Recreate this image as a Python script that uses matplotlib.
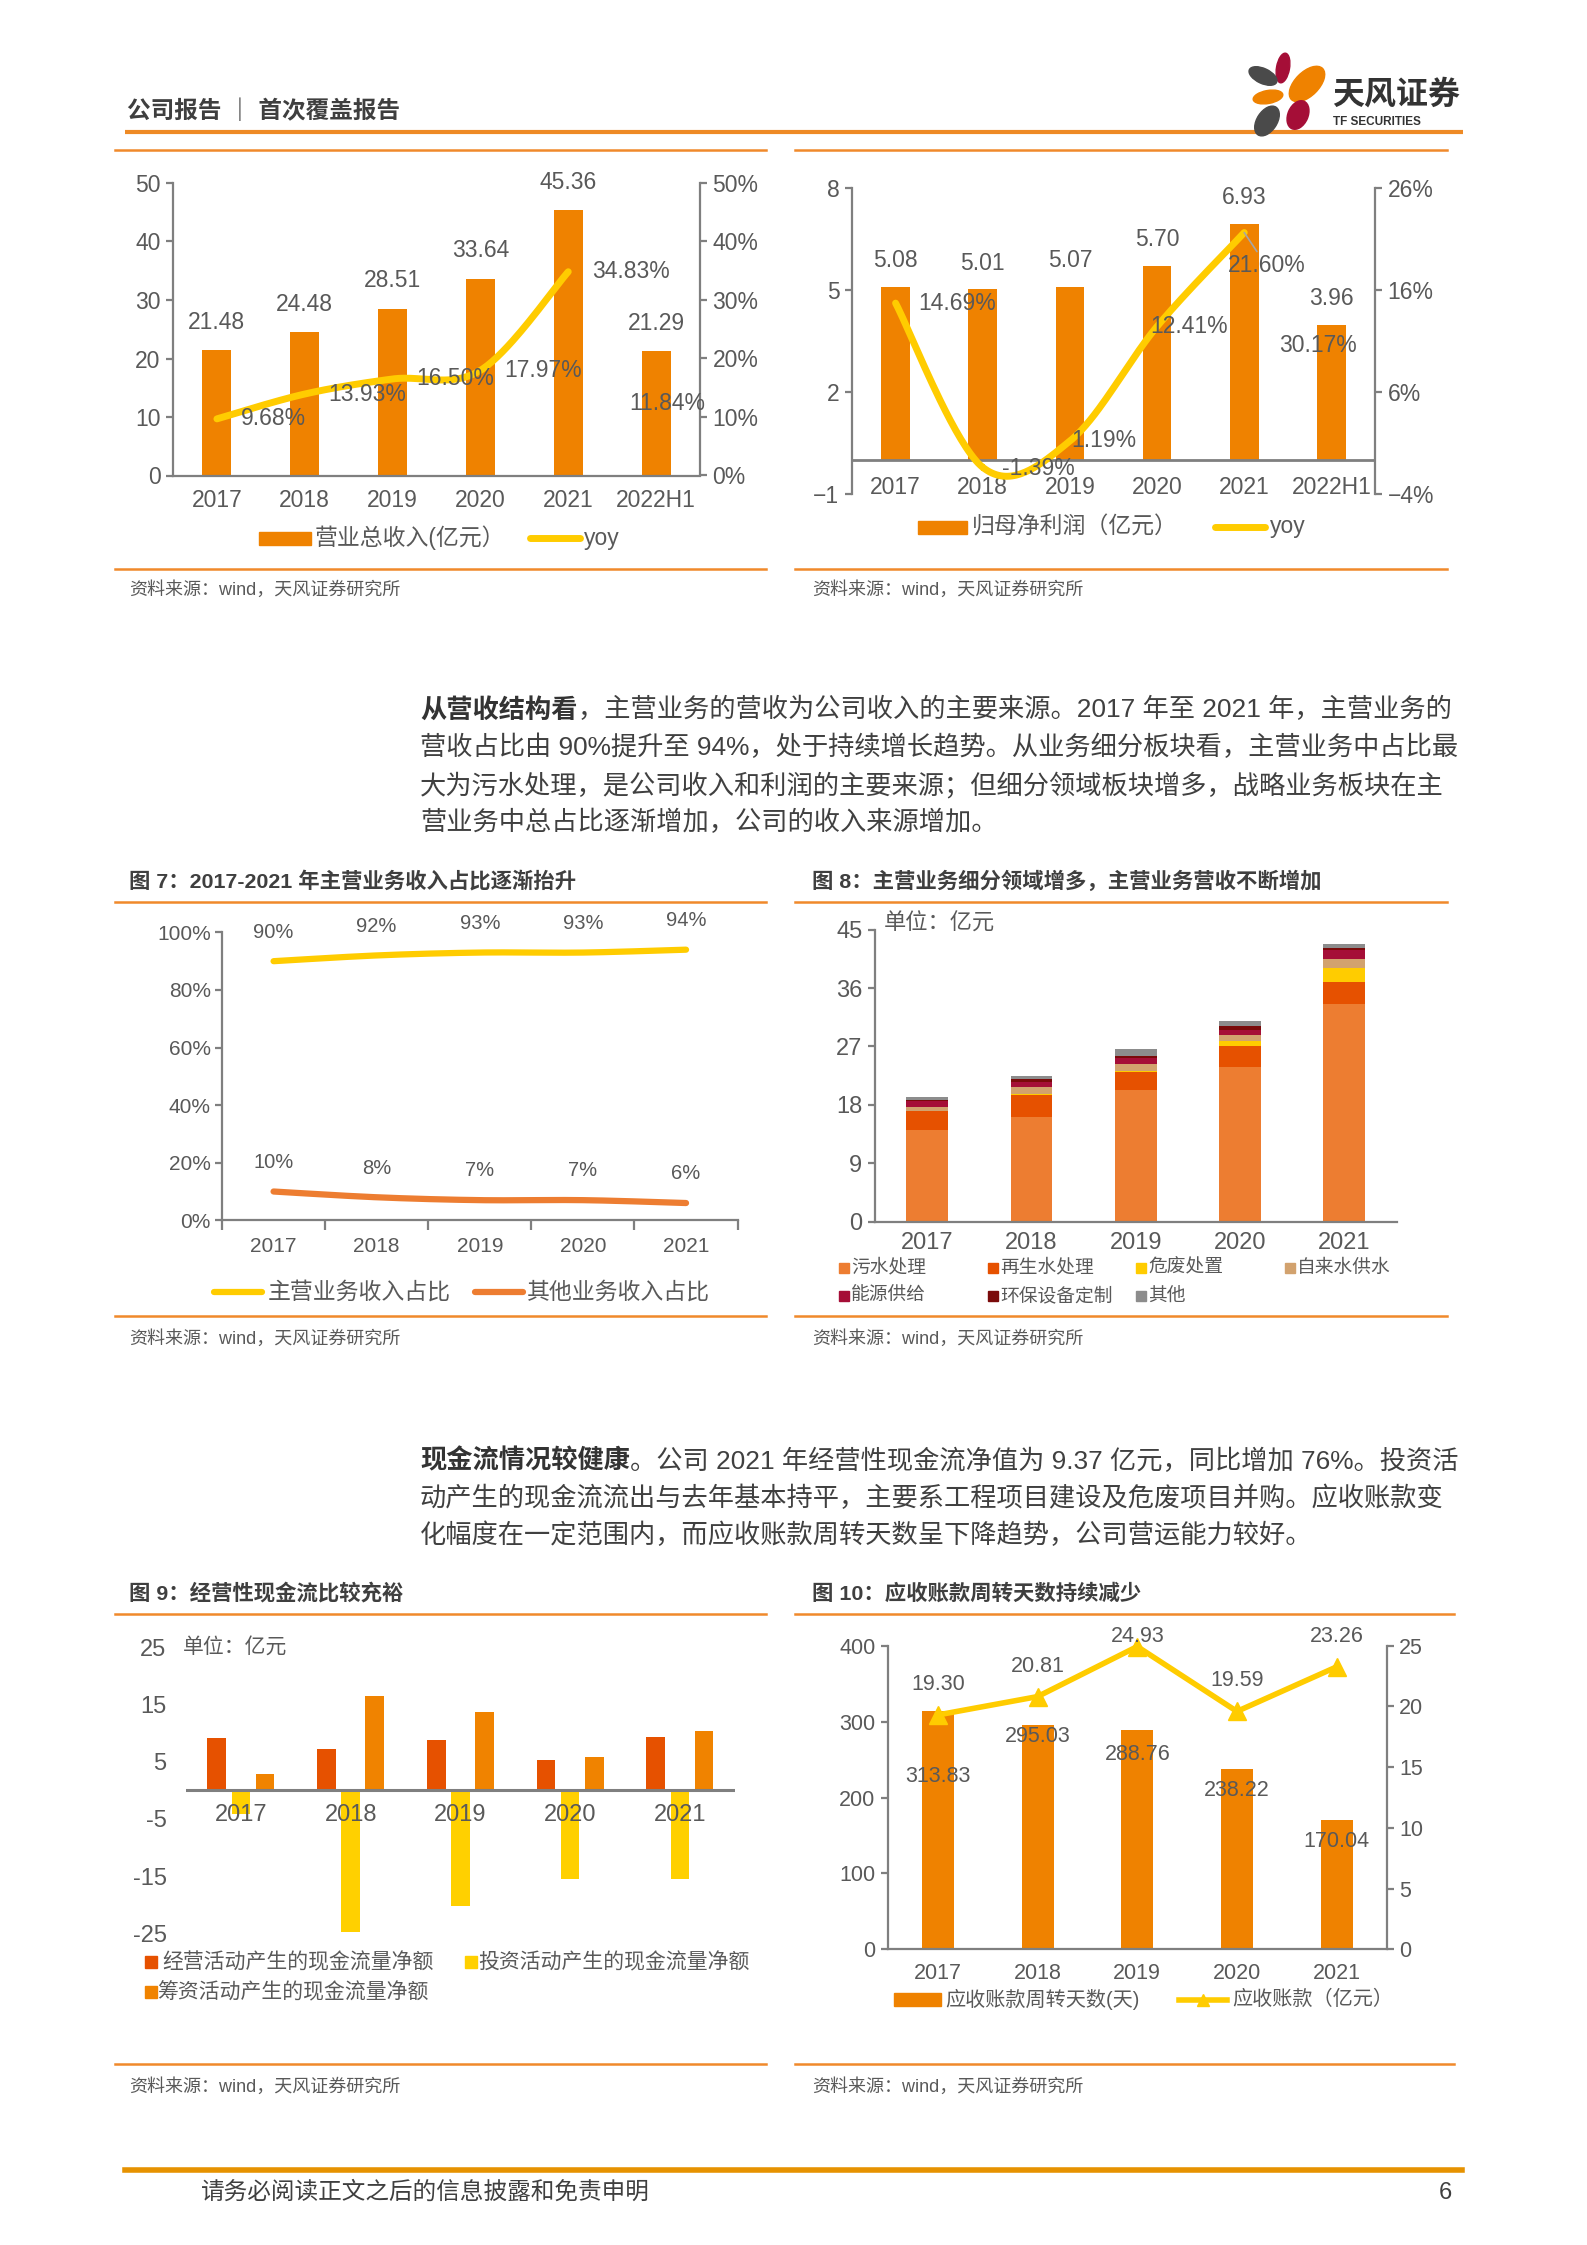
import numpy as np
import matplotlib
matplotlib.use('Agg')
import matplotlib.pyplot as plt
from matplotlib.patches import Ellipse, Rectangle

plt.rcParams['font.family'] = ['Liberation Sans', 'Noto Sans CJK SC', 'DejaVu Sans']

# ---- 数据 ----
years6 = ['2017', '2018', '2019', '2020', '2021', '2022H1']
revenue = [21.48, 24.48, 28.51, 33.64, 45.36, 21.29]
revenue_yoy = [9.68, 13.93, 16.50, 17.97, 34.83, 11.84]
profit = [5.08, 5.01, 5.07, 5.70, 6.93, 3.96]
profit_yoy = [14.69, -1.39, 1.19, 12.41, 21.60, 30.17]

years5 = ['2017', '2018', '2019', '2020', '2021']
main_share = [90, 92, 93, 93, 94]
other_share = [10, 8, 7, 7, 6]

seg_names = ['污水处理', '再生水处理', '危废处置', '自来水供水', '能源供给', '环保设备定制', '其他']
sewage = [14.2, 16.1, 20.3, 23.8, 33.6]
reclaimed = [2.9, 3.5, 2.8, 3.2, 3.3]
hazardous = [0.0, 0.1, 0.2, 0.8, 2.2]
tap_water = [0.6, 1.0, 1.0, 0.9, 1.35]
energy = [0.9, 0.8, 0.9, 0.9, 1.35]
equipment = [0.15, 0.45, 0.4, 0.5, 0.3]
others = [0.5, 0.5, 1.0, 0.9, 0.7]

cf_names = ['经营活动产生的现金流量净额', '投资活动产生的现金流量净额', '筹资活动产生的现金流量净额']
op_cf = [9.1, 7.2, 8.8, 5.3, 9.37]
inv_cf = [-4.1, -24.7, -20.1, -15.5, -15.5]
fin_cf = [2.9, 16.4, 13.6, 5.8, 10.4]

recv_days = [313.83, 295.03, 288.76, 238.22, 170.04]
receivables = [19.30, 20.81, 24.93, 19.59, 23.26]

# ---- 样式 ----
W, H = 1587, 2245
ORANGE = '#EF8200'
YELLOW = '#FFCC00'
LINE_OR = '#F0892B'
TXT = '#595959'
SPINE = '#7F7F7F'
DARK = '#3F3F3F'


def smooth(xs, ys, n=40):
    # Catmull-Rom 平滑曲线，模拟 Excel 的平滑线
    pts = np.column_stack([xs, ys]).astype(float)
    P = np.vstack([pts[0], pts, pts[-1]])
    t = np.linspace(0, 1, n)[:, None]
    segs = []
    for i in range(1, len(P) - 2):
        p0, p1, p2, p3 = P[i - 1], P[i], P[i + 1], P[i + 2]
        segs.append(0.5 * (2 * p1 + (-p0 + p2) * t + (2 * p0 - 5 * p1 + 4 * p2 - p3) * t ** 2
                           + (-p0 + 3 * p1 - 3 * p2 + p3) * t ** 3))
    s = np.vstack(segs)
    return s[:, 0], s[:, 1]


fig = plt.figure(figsize=(W / 100, H / 100), dpi=100)
bg = fig.add_axes([0, 0, 1, 1], zorder=0)
bg.set_xlim(0, W)
bg.set_ylim(H, 0)
bg.axis('off')


def axes_px(l, t, r, b):
    ax = fig.add_axes([l / W, 1 - b / H, (r - l) / W, (b - t) / H], zorder=1)
    ax.set_facecolor('none')
    return ax


def base_style(ax, left=True, bottom=True, right=False):
    for k, s in ax.spines.items():
        s.set_color(SPINE)
        s.set_linewidth(1.6)
    ax.spines['top'].set_visible(False)
    ax.spines['right'].set_visible(right)
    ax.spines['left'].set_visible(left)
    ax.spines['bottom'].set_visible(bottom)


# ---- 页眉 ----
bg.text(127, 111, '公司报告 ｜ 首次覆盖报告', fontsize=17, fontweight='bold', color=DARK, va='center')
bg.plot([125, 1463], [132, 132], color='#EE8A25', lw=3, solid_capstyle='butt')
# 标志花瓣: 中心, 长轴, 短轴, 角度(数据坐标, y 轴向下), 颜色
petals = [((1283, 68), 30, 13, -80, '#A50E37'),
          ((1263, 76), 30, 15, 25, '#4A4A4A'),
          ((1307, 84), 44, 24, -45, ORANGE),
          ((1268, 97), 30, 13, -10, ORANGE),
          ((1298, 115), 30, 20, -66, '#A50E37'),
          ((1267, 121), 33, 20, -57, '#4A4A4A')]
for c, w, h, a, col in petals:
    bg.add_patch(Ellipse(c, w, h, angle=a, color=col, zorder=3))
bg.text(1332, 95, '天风证券', fontsize=23, fontweight='bold', color='#333333', va='center')
bg.text(1333, 122, 'TF SECURITIES', fontsize=8.5, fontweight='bold', color='#333333', va='center')


# ---- 图框线与来源 ----
def frame(x0, x1, ytop, ybot, src_x, src_y, title=None, title_y=None):
    bg.plot([x0, x1], [ytop, ytop], color=LINE_OR, lw=1.8)
    bg.plot([x0, x1], [ybot, ybot], color=LINE_OR, lw=1.8)
    bg.text(src_x, src_y, '资料来源：wind，天风证券研究所', fontsize=13, color=TXT, va='center')
    if title:
        bg.text(src_x, title_y, title, fontsize=15.4, fontweight='bold', color=DARK, va='center')


frame(115, 766, 150, 569, 129, 590)
frame(795, 1447, 150, 569, 812, 590)
frame(115, 766, 902, 1316, 129, 1339, '图 7：2017-2021 年主营业务收入占比逐渐抬升', 881)
frame(795, 1447, 902, 1316, 812, 1339, '图 8：主营业务细分领域增多，主营业务营收不断增加', 881)
frame(115, 766, 1614, 2064, 129, 2087, '图 9：经营性现金流比较充裕', 1593)
frame(795, 1454, 1614, 2064, 812, 2087, '图 10：应收账款周转天数持续减少', 1593)

# ---- 正文段落 ----
PFS = 18.9
PCOL = '#404040'


def paragraph(bold, lines, x, y0, dy):
    t = bg.text(x, y0, bold, fontsize=PFS, fontweight='bold', color='#333333', va='center')
    bg.annotate(lines[0], xy=(1, 0), xycoords=t, va='bottom', ha='left', fontsize=PFS, color=PCOL)
    for i, ln in enumerate(lines[1:], start=1):
        bg.text(x, y0 + i * dy, ln, fontsize=PFS, color=PCOL, va='center')


paragraph('从营收结构看',
          ['，主营业务的营收为公司收入的主要来源。2017 年至 2021 年，主营业务的',
           '营收占比由 90%提升至 94%，处于持续增长趋势。从业务细分板块看，主营业务中占比最',
           '大为污水处理，是公司收入和利润的主要来源；但细分领域板块增多，战略业务板块在主',
           '营业务中总占比逐渐增加，公司的收入来源增加。'],
          420, 710, 37.3)
paragraph('现金流情况较健康',
          ['。公司 2021 年经营性现金流净值为 9.37 亿元，同比增加 76%。投资活',
           '动产生的现金流流出与去年基本持平，主要系工程项目建设及危废项目并购。应收账款变',
           '化幅度在一定范围内，而应收账款周转天数呈下降趋势，公司营运能力较好。'],
          420, 1461, 37.3)

# ---- 页脚 ----
bg.plot([125, 1462], [2170, 2170], color='#E69200', lw=4)
bg.text(201, 2193, '请务必阅读正文之后的信息披露和免责申明', fontsize=17, color=DARK, va='center')
bg.text(1452, 2193, '6', fontsize=17, color=DARK, va='center', ha='right')

# ================= 图：营业总收入 =================
x6 = np.arange(len(years6))
ax1 = axes_px(173, 183, 700, 475.5)
base_style(ax1)
ax1.bar(x6, revenue, width=0.33, color=ORANGE, zorder=2)
ax1.set_xlim(-0.5, 5.5)
ax1.set_ylim(0, 50)
ax1.set_yticks(np.arange(0, 51, 10))
ax1.set_xticks(x6)
ax1.set_xticklabels(years6)
ax1.tick_params(axis='x', length=0, pad=10, labelsize=16.5, labelcolor=TXT)
ax1.tick_params(axis='y', length=5, width=1.6, color=SPINE, labelsize=16.5, labelcolor=TXT, pad=4)
for xi, v in zip(x6, revenue):
    ax1.annotate(f'{v:.2f}', (xi, v), xytext=(0, 20), textcoords='offset points',
                 ha='center', va='center', fontsize=16.5, color=TXT)
ax1r = ax1.twinx()
base_style(ax1r, left=False, bottom=False, right=True)
ax1r.set_ylim(0, 50)
ax1r.set_yticks(np.arange(0, 51, 10))
ax1r.set_yticklabels([f'{v}%' for v in range(0, 51, 10)])
ax1r.tick_params(axis='y', length=5, width=1.6, color=SPINE, labelsize=16.5, labelcolor=TXT, pad=4)
sx, sy = smooth(x6[:5], revenue_yoy[:5])
ax1r.plot(sx, sy, color=YELLOW, lw=5, solid_capstyle='round', zorder=3)
for xi, v in zip(x6[:5], revenue_yoy[:5]):
    ax1r.annotate(f'{v:.2f}%', (xi, v), xytext=(17, 0), textcoords='offset points',
                  ha='left', va='center', fontsize=16.5, color=TXT)
ax1r.annotate(f'{revenue_yoy[5]:.2f}%', (x6[5], revenue_yoy[5]), xytext=(8, 2), textcoords='offset points',
              ha='center', va='center', fontsize=16.5, color=TXT)
# 图例
bg.add_patch(Rectangle((259, 532), 52, 13, color=ORANGE))
bg.text(315, 538, '营业总收入(亿元）', fontsize=16.5, color=TXT, va='center')
bg.plot([530, 580], [538, 538], color=YELLOW, lw=5, solid_capstyle='round')
bg.text(584, 538, 'yoy', fontsize=16.5, color=TXT, va='center')

# ================= 图：归母净利润 =================
ax2 = axes_px(852, 187.6, 1375, 494)
base_style(ax2, bottom=False)
ax2.bar(x6, profit, width=0.33, color=ORANGE, zorder=2)
ax2.axhline(0, color=SPINE, lw=2, zorder=3)
ax2.set_xlim(-0.5, 5.5)
ax2.set_ylim(-1, 8)
ax2.set_yticks([-1, 2, 5, 8])
ax2.set_yticklabels(['\u22121', '2', '5', '8'])
ax2.set_xticks([])
ax2.tick_params(axis='y', length=5, width=1.6, color=SPINE, labelsize=16.5, labelcolor=TXT, pad=4)
for xi, lbl in zip(x6, years6):
    ax2.text(xi, -0.8, lbl, ha='center', va='center', fontsize=16.5, color=TXT, zorder=4)
for xi, v in zip(x6, profit):
    ax2.annotate(f'{v:.2f}', (xi, v), xytext=(0, 19), textcoords='offset points',
                 ha='center', va='center', fontsize=16.5, color=TXT)
ax2r = ax2.twinx()
base_style(ax2r, left=False, bottom=False, right=True)
ax2r.set_ylim(-4, 26)
ax2r.set_yticks([-4, 6, 16, 26])
ax2r.set_yticklabels(['\u22124%', '6%', '16%', '26%'])
ax2r.tick_params(axis='y', length=5, width=1.6, color=SPINE, labelsize=16.5, labelcolor=TXT, pad=4)
sx, sy = smooth(x6[:5], profit_yoy[:5])
ax2r.plot(sx, sy, color=YELLOW, lw=5, solid_capstyle='round', zorder=3)
yoy_off = [(16, 0), (14, -1), (1, 0), (-5, 0)]
for xi, v, off in zip(x6[:4], profit_yoy[:4], yoy_off):
    ax2r.annotate(f'{v:.2f}%', (xi, v), xytext=off, textcoords='offset points',
                  ha='left', va='center', fontsize=16.5, color=TXT, zorder=4)
ax2r.annotate(f'{profit_yoy[4]:.2f}%', (x6[4], profit_yoy[4]), xytext=(-12, -24), textcoords='offset points',
              ha='left', va='center', fontsize=16.5, color=TXT, zorder=4,
              arrowprops=dict(arrowstyle='-', color='#A6A6A6', lw=1.2, shrinkA=0, shrinkB=0))
ax2r.text(x6[5] - 0.16, 10.5, f'{profit_yoy[5]:.2f}%', ha='center', va='center', fontsize=16.5, color=TXT)
bg.add_patch(Rectangle((918, 521), 49, 13, color=ORANGE))
bg.text(972, 527, '归母净利润（亿元）', fontsize=16.5, color=TXT, va='center')
bg.plot([1215, 1265], [527, 527], color=YELLOW, lw=5, solid_capstyle='round')
bg.text(1270, 527, 'yoy', fontsize=16.5, color=TXT, va='center')

# ================= 图7 =================
x5 = np.arange(len(years5))
ax7 = axes_px(222, 932.4, 737.6, 1220.3)
base_style(ax7)
ax7.set_xlim(-0.5, 4.5)
ax7.set_ylim(0, 100)
ax7.set_yticks(np.arange(0, 101, 20))
ax7.set_yticklabels([f'{v}%' for v in range(0, 101, 20)])
ax7.set_xticks(x5)
ax7.set_xticklabels(years5)
ax7.set_xticks(np.arange(-0.5, 4.6, 1), minor=True)
ax7.tick_params(axis='x', which='major', length=0, pad=12, labelsize=15, labelcolor=TXT)
ax7.tick_params(axis='x', which='minor', length=7, width=1.6, color=SPINE)
ax7.tick_params(axis='y', length=5, width=1.6, color=SPINE, labelsize=15, labelcolor=TXT, pad=3)
for vals, col in [(main_share, YELLOW), (other_share, '#ED7D31')]:
    sx, sy = smooth(x5, vals)
    ax7.plot(sx, sy, color=col, lw=4.5, solid_capstyle='round', clip_on=False)
    for xi, v in zip(x5, vals):
        ax7.annotate(f'{v}%', (xi, v), xytext=(0, 21), textcoords='offset points',
                     ha='center', va='center', fontsize=14.5, color=TXT)
bg.plot([214, 262], [1292, 1292], color=YELLOW, lw=4.5, solid_capstyle='round')
bg.text(268, 1292, '主营业务收入占比', fontsize=16.5, color=TXT, va='center')
bg.plot([475, 523], [1292, 1292], color='#ED7D31', lw=4.5, solid_capstyle='round')
bg.text(527, 1292, '其他业务收入占比', fontsize=16.5, color=TXT, va='center')

# ================= 图8 =================
ax8 = axes_px(875, 929.6, 1396.5, 1221.8)
base_style(ax8)
seg_series = [sewage, reclaimed, hazardous, tap_water, energy, equipment, others]
seg_colors = ['#ED7D31', '#E65100', '#FFCC00', '#D2A26E', '#A50E37', '#7A0A0A', '#8C8C8C']
bottom = np.zeros(len(years5))
for vals, col in zip(seg_series, seg_colors):
    ax8.bar(x5, vals, width=0.4, bottom=bottom, color=col, zorder=2)
    bottom += np.array(vals)
ax8.set_xlim(-0.5, 4.5)
ax8.set_ylim(0, 45)
ax8.set_yticks(np.arange(0, 46, 9))
ax8.set_xticks(x5)
ax8.set_xticklabels(years5)
ax8.tick_params(axis='x', length=0, pad=7, labelsize=17, labelcolor=TXT)
ax8.tick_params(axis='y', length=5, width=1.6, color=SPINE, labelsize=17, labelcolor=TXT, pad=4)
bg.text(884, 924, '单位：亿元', fontsize=16, color=TXT, va='center')
leg8 = [(839, 1268), (988, 1268), (1136, 1268), (1285, 1268), (839, 1296), (988, 1296), (1136, 1296)]
for (lx, ly), name, col in zip(leg8, seg_names, seg_colors):
    bg.add_patch(Rectangle((lx, ly - 5), 10, 10, color=col))
    bg.text(lx + 12, ly, name, fontsize=13.5, color=TXT, va='center')

# ================= 图9 =================
ax9 = axes_px(186, 1647, 734.8, 1933.6)
base_style(ax9, left=False, bottom=False)
for vals, col, off in zip([op_cf, inv_cf, fin_cf], ['#E65100', '#FFD000', '#F08300'], [-0.22, 0, 0.22]):
    ax9.bar(x5 + off, vals, width=0.17, color=col, zorder=2)
ax9.axhline(0, color=SPINE, lw=2.2, zorder=3)
ax9.set_xlim(-0.5, 4.5)
ax9.set_ylim(-25, 25)
ax9.set_yticks([-25, -15, -5, 5, 15, 25])
ax9.set_yticklabels(['-25', '-15', '-5', '5', '15', '25'])
ax9.set_xticks([])
ax9.tick_params(axis='y', length=0, labelsize=17, labelcolor=TXT, pad=14)
for xi, lbl in zip(x5, years5):
    ax9.text(xi, -4.3, lbl, ha='center', va='center', fontsize=17, color=TXT, zorder=5)
bg.text(183, 1647, '单位：亿元', fontsize=15, color=TXT, va='center')
leg9 = [(145, 1962, 162), (465, 1962, 478), (145, 1992, 157)]
for (sqx, ly, tx), name, col in zip(leg9, cf_names, ['#E65100', '#FFD000', '#F08300']):
    bg.add_patch(Rectangle((sqx, ly - 6), 12, 12, color=col))
    bg.text(tx, ly, name, fontsize=15, color=TXT, va='center')

# ================= 图10 =================
ax10 = axes_px(888, 1645.7, 1386.5, 1949.4)
base_style(ax10)
ax10.bar(x5, recv_days, width=0.32, color=ORANGE, zorder=2)
ax10.set_xlim(-0.5, 4.5)
ax10.set_ylim(0, 400)
ax10.set_yticks(np.arange(0, 401, 100))
ax10.set_xticks(x5)
ax10.set_xticklabels(years5)
ax10.tick_params(axis='x', length=0, pad=10, labelsize=15.5, labelcolor=TXT)
ax10.tick_params(axis='y', length=5, width=1.6, color=SPINE, labelsize=15.5, labelcolor=TXT, pad=4)
ax10r = ax10.twinx()
base_style(ax10r, left=False, bottom=False, right=True)
ax10r.set_ylim(0, 25)
ax10r.set_yticks(np.arange(0, 26, 5))
ax10r.tick_params(axis='y', length=5, width=1.6, color=SPINE, labelsize=15.5, labelcolor=TXT, pad=4)
ax10r.plot(x5, receivables, color=YELLOW, lw=4, marker='^', ms=13, zorder=3, clip_on=False)
bar_dy = [-47, -8, -17.5, -15.5, -15.5]
for xi, v, dy in zip(x5, recv_days, bar_dy):
    ax10.annotate(f'{v:.2f}', (xi, v), xytext=(0, dy), textcoords='offset points',
                  ha='center', va='center', fontsize=15.5, color=TXT, zorder=5)
line_dy = [22, 22, 7, 22, 22]
for xi, v, dy in zip(x5, receivables, line_dy):
    ax10r.annotate(f'{v:.2f}', (xi, v), xytext=(0, dy), textcoords='offset points',
                   ha='center', va='center', fontsize=15.5, color=TXT, zorder=5)
bg.add_patch(Rectangle((894, 1993), 47, 13, color=ORANGE))
bg.text(945, 1999.5, '应收账款周转天数(天)', fontsize=14.5, color=TXT, va='center')
bg.plot([1179, 1227], [1999.5, 1999.5], color=YELLOW, lw=4)
bg.plot([1203], [1999.5], marker='^', ms=9, color=YELLOW)
bg.text(1232, 1999.5, '应收账款（亿元）', fontsize=14.5, color=TXT, va='center')

fig.savefig('out.png', dpi=100)
